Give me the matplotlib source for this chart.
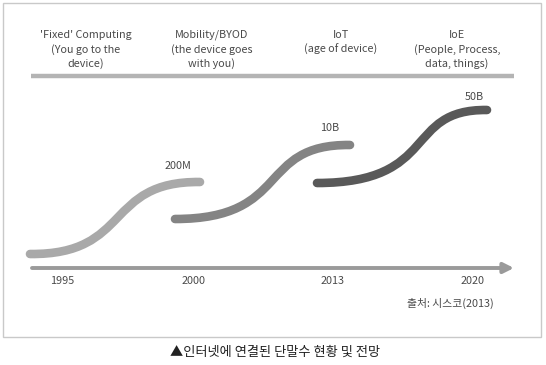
import matplotlib
matplotlib.use("Agg")
import matplotlib.pyplot as plt
from matplotlib.path import Path
from matplotlib.patches import PathPatch, Rectangle

plt.rcParams['font.family'] = ['Noto Sans CJK KR', 'DejaVu Sans']

# era headers (x centre in picture units) and their text lines
era_x = [86, 212, 341, 457]
era_text = [
    ["'Fixed' Computing", "(You go to the", "device)"],
    ["Mobility/BYOD", "(the device goes", "with you)"],
    ["IoT", "(age of device)"],
    ["IoE", "(People, Process,", "data, things)"],
]

# timeline ticks
years = ["1995", "2000", "2013", "2020"]
year_x = [62, 194, 333, 473]

# S-curves: cubic bezier control points (x, y in picture units, y down)
curve_x = [[30, 132, 104, 200], [175, 292, 256, 350], [317, 440, 403, 487]]
curve_y = [[254, 255, 181, 182], [219, 219, 144, 145], [183, 183, 109, 110]]
curve_colors = ["#a9a9a9", "#848484", "#595959"]
device_labels = ["200M", "10B", "50B"]
label_xy = [(178, 166), (330, 128), (474, 97)]

fig = plt.figure(figsize=(5.46, 3.65), dpi=100)
ax = fig.add_axes([0, 0, 1, 1])
ax.set_xlim(0, 546)
ax.set_ylim(365, 0)
ax.axis("off")

ax.add_patch(Rectangle((3, 3), 538, 334, fill=False, ec="#c9c9c9", lw=1.0))

txt = "#4a4a4a"
fw = "light"
for x, lines in zip(era_x, era_text):
    for i, s in enumerate(lines):
        ax.text(x, 35 + i * 14.5, s, ha="center", va="center", fontsize=7.8,
                color=txt, fontweight=fw)

ax.plot([31, 514], [76, 76], color="#b4b4b4", lw=3.2, solid_capstyle="butt")

codes = [Path.MOVETO, Path.CURVE4, Path.CURVE4, Path.CURVE4]
for cx, cy, col in zip(curve_x, curve_y, curve_colors):
    p = Path(list(zip(cx, cy)), codes)
    ax.add_patch(PathPatch(p, fill=False, ec=col, lw=6.2, capstyle="round"))

for s, (x, y) in zip(device_labels, label_xy):
    ax.text(x, y, s, ha="center", va="center", fontsize=7.8, color=txt, fontweight=fw)

ax.annotate("", xy=(514, 268), xytext=(32, 268),
            arrowprops=dict(arrowstyle="-|>,head_length=0.6,head_width=0.3",
                            color="#9a9a9a", lw=2.8, shrinkA=0, shrinkB=0))

for s, x in zip(years, year_x):
    ax.text(x, 281, s, ha="center", va="center", fontsize=7.8, color=txt, fontweight=fw)

ax.text(450, 303, "출처: 시스코(2013)", ha="center", va="center", fontsize=7.8,
        color=txt, fontweight=fw)
ax.text(275, 352, "▲인터넷에 연결된 단말수 현황 및 전망", ha="center", va="center",
        fontsize=9.5, color="#222222")

fig.savefig("out.png", dpi=100)
